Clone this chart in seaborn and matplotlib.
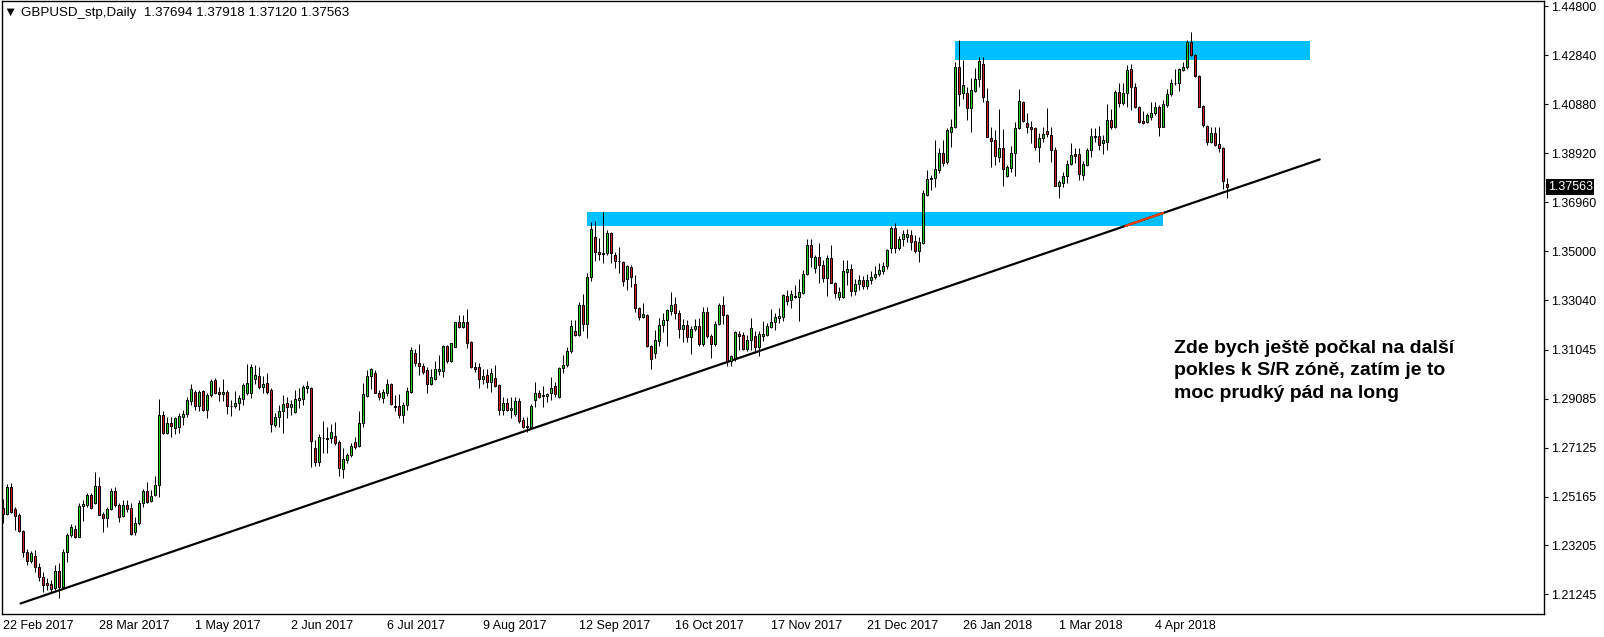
import numpy as np
import pandas as pd
import matplotlib
matplotlib.use("Agg")
import matplotlib.pyplot as plt
import matplotlib.transforms as mtransforms
import seaborn as sns

# daily GBPUSD candles, 22 Feb 2017 .. 30 Apr 2018
opens = [1.2469, 1.2447, 1.2553, 1.2465, 1.2441, 1.2379, 1.2293, 1.2260, 1.2279, 1.2233,
         1.2196, 1.2169, 1.2166, 1.2149, 1.2220, 1.2153, 1.2294, 1.2363, 1.2387, 1.2356,
         1.2479, 1.2483, 1.2523, 1.2489, 1.2559, 1.2445, 1.2429, 1.2465, 1.2539, 1.2483,
         1.2439, 1.2483, 1.2469, 1.2376, 1.2409, 1.2492, 1.2539, 1.2497, 1.2523, 1.2563,
         1.2844, 1.2773, 1.2810, 1.2790, 1.2794, 1.2837, 1.2848, 1.2901, 1.2936, 1.2880,
         1.2940, 1.2864, 1.2922, 1.2984, 1.2936, 1.2926, 1.2936, 1.2881, 1.2880, 1.2890,
         1.2906, 1.2933, 1.2930, 1.2986, 1.3000, 1.2957, 1.2970, 1.2944, 1.2804, 1.2834,
         1.2860, 1.2890, 1.2877, 1.2857, 1.2903, 1.2906, 1.2950, 1.2950, 1.2710, 1.2656,
         1.2750, 1.2750, 1.2750, 1.2759, 1.2734, 1.2626, 1.2665, 1.2682, 1.2734, 1.2721,
         1.2810, 1.2921, 1.2999, 1.3010, 1.2933, 1.2910, 1.2933, 1.2967, 1.2879, 1.2879,
         1.2843, 1.2883, 1.2934, 1.3090, 1.3053, 1.3040, 1.3024, 1.2966, 1.2986, 1.3021,
         1.3021, 1.3120, 1.3061, 1.3117, 1.3214, 1.3197, 1.3217, 1.3134, 1.3034, 1.3034,
         1.2988, 1.3004, 1.2974, 1.2990, 1.2963, 1.2863, 1.2890, 1.2863, 1.2847, 1.2899,
         1.2823, 1.2794, 1.2797, 1.2905, 1.2930, 1.2918, 1.2919, 1.2930, 1.2959, 1.2914,
         1.3030, 1.3044, 1.3100, 1.3180, 1.3162, 1.3285, 1.3207, 1.3395, 1.3555, 1.3497,
         1.3494, 1.3491, 1.3571, 1.3485, 1.3462, 1.3458, 1.3387, 1.3438, 1.3369, 1.3271,
         1.3235, 1.3244, 1.3120, 1.3091, 1.3138, 1.3204, 1.3224, 1.3258, 1.3289, 1.3251,
         1.3187, 1.3204, 1.3154, 1.3187, 1.3198, 1.3127, 1.3255, 1.3160, 1.3127, 1.3208,
         1.3285, 1.3245, 1.3058, 1.3071, 1.3168, 1.3164, 1.3107, 1.3144, 1.3160, 1.3115,
         1.3158, 1.3164, 1.3195, 1.3214, 1.3231, 1.3235, 1.3321, 1.3305, 1.3318, 1.3315,
         1.3331, 1.3409, 1.3525, 1.3431, 1.3478, 1.3445, 1.3391, 1.3471, 1.3374, 1.3318,
         1.3315, 1.3418, 1.3427, 1.3340, 1.3370, 1.3385, 1.3360, 1.3385, 1.3395, 1.3410,
         1.3420, 1.3440, 1.3512, 1.3592, 1.3512, 1.3548, 1.3555, 1.3564, 1.3541, 1.3502,
         1.3532, 1.3725, 1.3788, 1.3792, 1.3823, 1.3892, 1.3855, 1.3979, 1.3996, 1.4236,
         1.4132, 1.4132, 1.4072, 1.4143, 1.4189, 1.4250, 1.4102, 1.3952, 1.3946, 1.3876,
         1.3912, 1.3799, 1.3832, 1.3892, 1.3992, 1.4096, 1.4015, 1.3999, 1.3992, 1.3916,
         1.3952, 1.3983, 1.3966, 1.3906, 1.3759, 1.3772, 1.3799, 1.3849, 1.3890, 1.3890,
         1.3806, 1.3845, 1.3906, 1.3959, 1.3962, 1.3935, 1.3939, 1.4026, 1.3996, 1.4139,
         1.4095, 1.4132, 1.4228, 1.4156, 1.4076, 1.4023, 1.4019, 1.4039, 1.4052, 1.4076,
         1.3999, 1.4086, 1.4128, 1.4172, 1.4172, 1.4226, 1.4236, 1.4339, 1.4286, 1.4202,
         1.4082, 1.4002, 1.3939, 1.3975, 1.3929, 1.3912, 1.37694]
highs = [1.2505, 1.2567, 1.2570, 1.2476, 1.2449, 1.2383, 1.2305, 1.2298, 1.2303, 1.2252,
         1.2216, 1.2189, 1.2182, 1.2242, 1.2249, 1.2308, 1.2372, 1.2407, 1.2403, 1.2489,
         1.2503, 1.2532, 1.2529, 1.2615, 1.2596, 1.2456, 1.2476, 1.2549, 1.2553, 1.2489,
         1.2503, 1.2503, 1.2489, 1.2436, 1.2503, 1.2545, 1.2575, 1.2543, 1.2597, 1.2908,
         1.2861, 1.2834, 1.2834, 1.2834, 1.2850, 1.2864, 1.2917, 1.2968, 1.2944, 1.2944,
         1.2944, 1.2930, 1.2986, 1.2993, 1.2957, 1.2986, 1.2944, 1.2904, 1.2940, 1.2924,
         1.2970, 1.3048, 1.3048, 1.3044, 1.3037, 1.3000, 1.3013, 1.2950, 1.2850, 1.2884,
         1.2922, 1.2917, 1.2903, 1.2943, 1.2950, 1.2963, 1.2979, 1.2957, 1.2743, 1.2767,
         1.2821, 1.2797, 1.2807, 1.2817, 1.2743, 1.2710, 1.2692, 1.2733, 1.2757, 1.2861,
         1.2970, 1.3024, 1.3033, 1.3024, 1.2943, 1.2946, 1.2986, 1.2973, 1.2923, 1.2927,
         1.2897, 1.2957, 1.3117, 1.3106, 1.3128, 1.3050, 1.3034, 1.3026, 1.3061, 1.3084,
         1.3124, 1.3124, 1.3133, 1.3217, 1.3244, 1.3244, 1.3267, 1.3140, 1.3057, 1.3053,
         1.3026, 1.3026, 1.3030, 1.3044, 1.2967, 1.2914, 1.2913, 1.2917, 1.2914, 1.2910,
         1.2834, 1.2837, 1.2887, 1.2977, 1.2943, 1.2959, 1.2933, 1.2994, 1.2977, 1.3034,
         1.3084, 1.3117, 1.3224, 1.3224, 1.3298, 1.3328, 1.3411, 1.3617, 1.3621, 1.3551,
         1.3657, 1.3585, 1.3578, 1.3498, 1.3518, 1.3462, 1.3445, 1.3445, 1.3405, 1.3278,
         1.3291, 1.3248, 1.3124, 1.3184, 1.3231, 1.3251, 1.3267, 1.3338, 1.3315, 1.3264,
         1.3227, 1.3222, 1.3198, 1.3227, 1.3231, 1.3275, 1.3275, 1.3168, 1.3218, 1.3291,
         1.3321, 1.3249, 1.3084, 1.3178, 1.3178, 1.3174, 1.3164, 1.3231, 1.3178, 1.3178,
         1.3218, 1.3211, 1.3267, 1.3251, 1.3271, 1.3329, 1.3345, 1.3345, 1.3365, 1.3387,
         1.3425, 1.3548, 1.3548, 1.3485, 1.3532, 1.3465, 1.3485, 1.3525, 1.3378, 1.3358,
         1.3465, 1.3465, 1.3450, 1.3390, 1.3405, 1.3400, 1.3410, 1.3420, 1.3440, 1.3452,
         1.3458, 1.3510, 1.3601, 1.3612, 1.3561, 1.3585, 1.3588, 1.3585, 1.3565, 1.3558,
         1.3745, 1.3823, 1.3805, 1.3945, 1.3912, 1.3945, 1.3992, 1.4028, 1.4259, 1.4346,
         1.4266, 1.4159, 1.4193, 1.4233, 1.4279, 1.4279, 1.4152, 1.3999, 1.3986, 1.4068,
         1.3988, 1.3845, 1.3922, 1.4019, 1.4148, 1.4103, 1.4052, 1.4023, 1.3999, 1.3972,
         1.3999, 1.4072, 1.3999, 1.3919, 1.3785, 1.3815, 1.3866, 1.3932, 1.3912, 1.3912,
         1.3859, 1.3912, 1.3992, 1.3992, 1.4002, 1.3966, 1.4090, 1.4068, 1.4146, 1.4175,
         1.4172, 1.4246, 1.4250, 1.4172, 1.4082, 1.4063, 1.4052, 1.4099, 1.4099, 1.4086,
         1.4106, 1.4148, 1.4188, 1.4228, 1.4232, 1.4259, 1.4346, 1.4379, 1.4290, 1.4206,
         1.4086, 1.4006, 1.3999, 1.3996, 1.3996, 1.3916, 1.37918]
lows = [1.2409, 1.2443, 1.2449, 1.2383, 1.2376, 1.2276, 1.2242, 1.2249, 1.2216, 1.2180,
        1.2136, 1.2142, 1.2136, 1.2142, 1.2109, 1.2149, 1.2256, 1.2353, 1.2349, 1.2353,
        1.2420, 1.2476, 1.2465, 1.2487, 1.2443, 1.2376, 1.2396, 1.2463, 1.2476, 1.2416,
        1.2436, 1.2456, 1.2363, 1.2363, 1.2403, 1.2476, 1.2492, 1.2493, 1.2517, 1.2513,
        1.2767, 1.2767, 1.2754, 1.2767, 1.2773, 1.2804, 1.2837, 1.2884, 1.2864, 1.2861,
        1.2861, 1.2830, 1.2917, 1.2928, 1.2901, 1.2901, 1.2848, 1.2840, 1.2870, 1.2864,
        1.2884, 1.2924, 1.2910, 1.2968, 1.2946, 1.2930, 1.2928, 1.2777, 1.2794, 1.2794,
        1.2770, 1.2830, 1.2843, 1.2850, 1.2870, 1.2883, 1.2930, 1.2634, 1.2637, 1.2639,
        1.2690, 1.2690, 1.2730, 1.2723, 1.2599, 1.2590, 1.2652, 1.2674, 1.2706, 1.2717,
        1.2794, 1.2917, 1.2946, 1.2930, 1.2903, 1.2893, 1.2919, 1.2883, 1.2861, 1.2830,
        1.2810, 1.2863, 1.2930, 1.3040, 1.3004, 1.3008, 1.2930, 1.2963, 1.2984, 1.3004,
        1.2997, 1.3050, 1.3057, 1.3114, 1.3190, 1.3190, 1.3110, 1.3030, 1.3017, 1.2950,
        1.2968, 1.2950, 1.2937, 1.2957, 1.2843, 1.2843, 1.2859, 1.2830, 1.2839, 1.2813,
        1.2790, 1.2777, 1.2790, 1.2874, 1.2910, 1.2877, 1.2897, 1.2903, 1.2914, 1.2910,
        1.3010, 1.3037, 1.3091, 1.3158, 1.3158, 1.3180, 1.3151, 1.3382, 1.3462, 1.3465,
        1.3451, 1.3485, 1.3451, 1.3431, 1.3411, 1.3362, 1.3345, 1.3358, 1.3254, 1.3222,
        1.3231, 1.3115, 1.3027, 1.3071, 1.3120, 1.3174, 1.3120, 1.3245, 1.3227, 1.3151,
        1.3134, 1.3134, 1.3087, 1.3178, 1.3118, 1.3118, 1.3151, 1.3071, 1.3118, 1.3204,
        1.3208, 1.3040, 1.3038, 1.3058, 1.3104, 1.3104, 1.3098, 1.3104, 1.3091, 1.3078,
        1.3138, 1.3158, 1.3191, 1.3184, 1.3211, 1.3218, 1.3285, 1.3271, 1.3311, 1.3218,
        1.3329, 1.3405, 1.3438, 1.3411, 1.3371, 1.3378, 1.3321, 1.3371, 1.3311, 1.3305,
        1.3311, 1.3365, 1.3320, 1.3325, 1.3345, 1.3350, 1.3350, 1.3370, 1.3390, 1.3400,
        1.3410, 1.3430, 1.3492, 1.3494, 1.3505, 1.3521, 1.3538, 1.3505, 1.3494, 1.3458,
        1.3529, 1.3721, 1.3745, 1.3756, 1.3812, 1.3839, 1.3850, 1.3916, 1.3992, 1.4082,
        1.4108, 1.4026, 1.3979, 1.4139, 1.4159, 1.4099, 1.3956, 1.3836, 1.3846, 1.3855,
        1.3761, 1.3796, 1.3815, 1.3799, 1.3988, 1.4019, 1.3972, 1.3932, 1.3906, 1.3855,
        1.3939, 1.3956, 1.3855, 1.3759, 1.3712, 1.3756, 1.3772, 1.3845, 1.3852, 1.3785,
        1.3785, 1.3839, 1.3876, 1.3939, 1.3906, 1.3889, 1.3906, 1.3988, 1.3992, 1.4076,
        1.4086, 1.4079, 1.4066, 1.4072, 1.4012, 1.4010, 1.4015, 1.4026, 1.4046, 1.3961,
        1.3996, 1.4079, 1.4122, 1.4166, 1.4143, 1.4223, 1.4228, 1.4282, 1.4199, 1.4076,
        1.3999, 1.3926, 1.3935, 1.3921, 1.3899, 1.3748, 1.37120]
closes = [1.2447, 1.2553, 1.2453, 1.2439, 1.2379, 1.2293, 1.2260, 1.2289, 1.2233, 1.2196,
          1.2162, 1.2162, 1.2145, 1.2217, 1.2153, 1.2294, 1.2363, 1.2393, 1.2356, 1.2479,
          1.2487, 1.2523, 1.2469, 1.2559, 1.2443, 1.2429, 1.2465, 1.2539, 1.2483, 1.2436,
          1.2483, 1.2465, 1.2365, 1.2409, 1.2492, 1.2539, 1.2496, 1.2519, 1.2563, 1.2844,
          1.2773, 1.2810, 1.2800, 1.2830, 1.2840, 1.2848, 1.2904, 1.2946, 1.2880, 1.2936,
          1.2864, 1.2922, 1.2980, 1.2933, 1.2926, 1.2936, 1.2881, 1.2881, 1.2892, 1.2910,
          1.2964, 1.2970, 1.3037, 1.3004, 1.2957, 1.2968, 1.2937, 1.2806, 1.2834, 1.2860,
          1.2888, 1.2877, 1.2886, 1.2906, 1.2910, 1.2954, 1.2959, 1.2741, 1.2656, 1.2754,
          1.2750, 1.2748, 1.2774, 1.2730, 1.2630, 1.2667, 1.2682, 1.2719, 1.2717, 1.2810,
          1.2926, 1.2999, 1.3028, 1.2933, 1.2914, 1.2934, 1.2967, 1.2886, 1.2874, 1.2843,
          1.2883, 1.2939, 1.3104, 1.3050, 1.3040, 1.3017, 1.2966, 1.2994, 1.3026, 1.3026,
          1.3120, 1.3061, 1.3130, 1.3214, 1.3197, 1.3217, 1.3133, 1.3034, 1.3028, 1.2988,
          1.3001, 1.2974, 1.3010, 1.2959, 1.2863, 1.2890, 1.2863, 1.2873, 1.2899, 1.2821,
          1.2797, 1.2799, 1.2879, 1.2930, 1.2914, 1.2923, 1.2926, 1.2950, 1.2927, 1.3030,
          1.3044, 1.3100, 1.3198, 1.3162, 1.3285, 1.3207, 1.3395, 1.3587, 1.3495, 1.3487,
          1.3487, 1.3574, 1.3494, 1.3462, 1.3460, 1.3382, 1.3441, 1.3395, 1.3271, 1.3235,
          1.3248, 1.3118, 1.3067, 1.3144, 1.3204, 1.3224, 1.3262, 1.3285, 1.3251, 1.3187,
          1.3204, 1.3154, 1.3187, 1.3198, 1.3127, 1.3255, 1.3160, 1.3127, 1.3208, 1.3285,
          1.3245, 1.3058, 1.3078, 1.3174, 1.3160, 1.3107, 1.3144, 1.3191, 1.3115, 1.3168,
          1.3168, 1.3198, 1.3214, 1.3234, 1.3240, 1.3325, 1.3302, 1.3327, 1.3318, 1.3338,
          1.3409, 1.3525, 1.3478, 1.3478, 1.3445, 1.3391, 1.3471, 1.3374, 1.3334, 1.3338,
          1.3421, 1.3427, 1.3340, 1.3370, 1.3385, 1.3360, 1.3385, 1.3395, 1.3410, 1.3425,
          1.3440, 1.3505, 1.3592, 1.3512, 1.3548, 1.3569, 1.3569, 1.3538, 1.3502, 1.3537,
          1.3732, 1.3788, 1.3792, 1.3828, 1.3892, 1.3852, 1.3985, 1.3996, 1.4236, 1.4130,
          1.4166, 1.4072, 1.4146, 1.4189, 1.4262, 1.4116, 1.3956, 1.3943, 1.3879, 1.3912,
          1.3828, 1.3836, 1.3892, 1.3992, 1.4103, 1.4023, 1.3996, 1.3991, 1.3916, 1.3952,
          1.3970, 1.3970, 1.3906, 1.3759, 1.3776, 1.3801, 1.3849, 1.3886, 1.3882, 1.3809,
          1.3849, 1.3906, 1.3962, 1.3962, 1.3926, 1.3946, 1.4026, 1.3996, 1.4139, 1.4095,
          1.4135, 1.4226, 1.4156, 1.4076, 1.4019, 1.4015, 1.4046, 1.4055, 1.4076, 1.3999,
          1.4090, 1.4128, 1.4175, 1.4175, 1.4228, 1.4239, 1.4339, 1.4286, 1.4202, 1.4079,
          1.4006, 1.3939, 1.3975, 1.3925, 1.3912, 1.3779, 1.37563]

date_labels = ['22 Feb 2017', '28 Mar 2017', '1 May 2017', '2 Jun 2017', '6 Jul 2017',
               '9 Aug 2017', '12 Sep 2017', '16 Oct 2017', '17 Nov 2017', '21 Dec 2017',
               '26 Jan 2018', '1 Mar 2018', '4 Apr 2018']
bars_per_label = 24
price_ticks = [1.44800, 1.42840, 1.40880, 1.38920, 1.36960, 1.35000, 1.33040,
               1.31045, 1.29085, 1.27125, 1.25165, 1.23205, 1.21245]

# S/R zones (bar index from/to, price from/to) and the trend line
zone_start = [237.9, 145.85]
zone_end = [326.7, 289.9]
zone_low = [1.4266, 1.3601]
zone_high = [1.4342, 1.3657]
trend_x = [4.3, 329.1]
trend_y = [1.2088, 1.3867]

note = "Zde bych ještě počkal na další\npokles k S/R zóně, zatím je to\nmoc prudký pád na long"

df = pd.DataFrame({"open": opens, "high": highs, "low": lows, "close": closes})
df["bar"] = np.arange(len(df))
df["up"] = df["close"] >= df["open"]

sns.set_style("white")
plt.rcParams["font.family"] = ["Liberation Sans", "DejaVu Sans"]
plt.rcParams["text.color"] = "black"

W, H = 1604, 637
fig = plt.figure(figsize=(W / 100, H / 100), dpi=100)
ax = fig.add_axes([2 / W, (H - 614) / H, 1542 / W, 613 / H])

px = 72 / 100  # one pixel in points

for s, e, lo, hi in zip(zone_start, zone_end, zone_low, zone_high):
    ax.fill_between([s, e], lo, hi, color="#00BFFF", lw=0, zorder=1)

# trend line, with the part inside the lower zone drawn inverted (orange-red)
sns.lineplot(x=trend_x, y=trend_y, ax=ax, color="black", lw=2.2 * px, zorder=2)
slope = (trend_y[1] - trend_y[0]) / (trend_x[1] - trend_x[0])
x_in_lo = trend_x[0] + (zone_low[1] - trend_y[0]) / slope
x_in_hi = trend_x[0] + (zone_high[1] - trend_y[0]) / slope
seg_x = np.array([max(x_in_lo, zone_start[1]), min(x_in_hi, zone_end[1])])
seg_y = trend_y[0] + (seg_x - trend_x[0]) * slope
ax.plot(seg_x, seg_y, color="#FF4000", lw=2.2 * px, zorder=2.5)

# candles
ax.vlines(df["bar"], df["low"], df["high"], color="black", lw=1 * px, zorder=3)
body_lo = df[["open", "close"]].min(axis=1)
body_h = (df["close"] - df["open"]).abs().clip(lower=0.00002)
colors = np.where(df["up"], "#1ED21E", "#D21E1E")
ax.bar(df["bar"], body_h, bottom=body_lo, width=0.5, color=colors,
       edgecolor="black", linewidth=1 * px, zorder=4)

ax.set_xlim(-0.325, 385.175)
ax.set_ylim(1.2046, 1.4502)

ax.yaxis.tick_right()
ax.set_yticks(price_ticks)
ax.set_yticklabels([f"{p:.5f}" for p in price_ticks], fontsize=9)
ax.set_xticks(np.arange(len(date_labels)) * bars_per_label)
ax.set_xticklabels(date_labels, fontsize=9, ha="left")
ax.tick_params(axis="both", direction="out", length=3, width=0.8, color="black",
               pad=2, labelcolor="black")
ax.tick_params(axis="x", pad=1)
for sp in ax.spines.values():
    sp.set_color("black")
    sp.set_linewidth(1)
ax.set_xlabel("")
ax.set_ylabel("")

# current price marker on the price scale
trans = mtransforms.blended_transform_factory(ax.transAxes, ax.transData)
ax.text(1.0025, closes[-1], f"{closes[-1]:.5f}", transform=trans, fontsize=9,
        color="white", va="center", ha="left", zorder=6,
        bbox=dict(facecolor="black", edgecolor="none", pad=1.2))

header = "\u25bc GBPUSD_stp,Daily  {:.5f} {:.5f} {:.5f} {:.5f}".format(
    opens[-1], highs[-1], lows[-1], closes[-1])
fig.text(4 / W, 1 - 13 / H, header, fontsize=9.6, va="center", ha="left",
         color="black", family=["Liberation Sans", "DejaVu Sans"])

fig.text(1174 / W, 1 - 340 / H, note, fontsize=14, fontweight="bold", color="black",
         va="top", ha="left", linespacing=1.42)

fig.savefig("out.png", dpi=100)
